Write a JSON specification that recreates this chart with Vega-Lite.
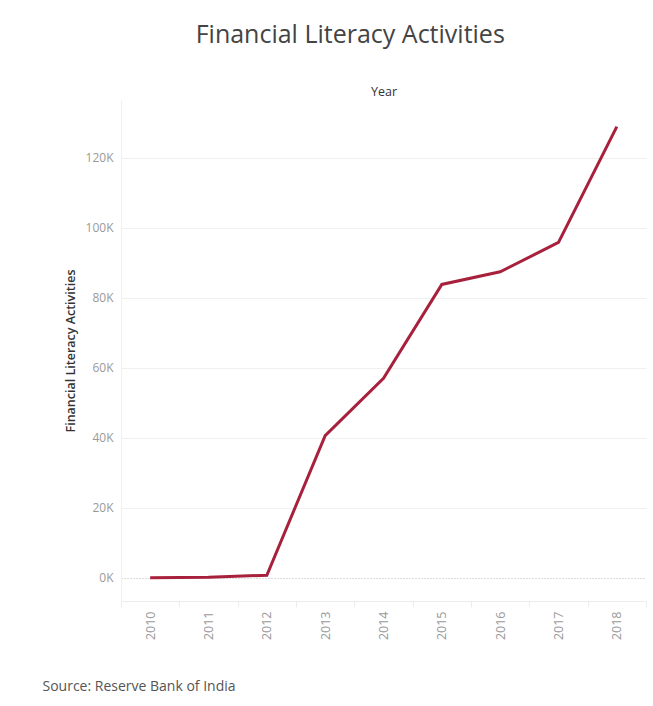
{
  "$schema": "https://vega.github.io/schema/vega-lite/v6.json",
  "autosize": {"type": "none"},
  "width": 525,
  "height": 501,
  "padding": {"left": 121, "top": 100, "right": 7, "bottom": 105},
  "background": "white",
  "title": {
    "text": "Financial Literacy Activities",
    "anchor": "middle",
    "frame": "bounds",
    "fontSize": 25,
    "font": "Open Sans",
    "fontWeight": "normal",
    "color": "#444444",
    "offset": 37,
    "dx": 6
  },
  "config": {
    "view": {"stroke": null},
    "axis": {"labelFont": "Open Sans", "titleFont": "Open Sans"}
  },
  "data": {
    "values": [
      {"Year": "2010", "Activities": 0},
      {"Year": "2011", "Activities": 150},
      {"Year": "2012", "Activities": 700},
      {"Year": "2013", "Activities": 40600},
      {"Year": "2014", "Activities": 57000},
      {"Year": "2015", "Activities": 83800},
      {"Year": "2016", "Activities": 87400},
      {"Year": "2017", "Activities": 95800},
      {"Year": "2018", "Activities": 128900}
    ]
  },
  "layer": [
    {
      "mark": {"type": "line", "color": "#a8213c", "strokeWidth": 3},
      "encoding": {
        "x": {
          "field": "Year",
          "type": "ordinal",
          "scale": {"type": "band", "paddingInner": 0, "paddingOuter": 0},
          "axis": {
            "orient": "bottom",
            "title": "Source: Reserve Bank of India",
            "titleFont": "Open Sans",
            "titleFontSize": 14,
            "titleFontWeight": "normal",
            "titleColor": "#555555",
            "titleAnchor": "start",
            "titleAlign": "left",
            "titleBaseline": "middle",
            "titleX": -79,
            "titleY": 85,
            "labelAngle": -90,
            "labelAlign": "right",
            "labelBaseline": "middle",
            "labelFontSize": 12.5,
            "labelColor": "#9a9a9a",
            "labelPadding": 4,
            "tickBand": "extent",
            "tickColor": "#ececec",
            "tickSize": 6,
            "domainColor": "#ececec",
            "grid": false
          }
        },
        "y": {
          "field": "Activities",
          "type": "quantitative",
          "scale": {"domain": [-6660, 136500], "nice": false, "zero": false},
          "axis": {
            "title": "Financial Literacy Activities",
            "titleFontSize": 12.5,
            "titleFontWeight": 600,
            "titleColor": "#333333",
            "titlePadding": 8,
            "values": [0, 20000, 40000, 60000, 80000, 100000, 120000],
            "labelExpr": "datum.value / 1000 + 'K'",
            "labelFontSize": 12,
            "labelColor": "#9a9a9a",
            "labelPadding": 8,
            "ticks": false,
            "domainColor": "#f0f0f0",
            "gridColor": {"condition": {"test": "datum.value === 0", "value": "#bbbbbb"}, "value": "#f0f0f0"},
            "gridDash": {"condition": {"test": "datum.value === 0", "value": [1, 2]}, "value": []}
          }
        }
      }
    },
    {
      "mark": {"type": "line", "opacity": 0},
      "encoding": {
        "x": {
          "field": "Year",
          "type": "ordinal",
          "axis": {
            "orient": "top",
            "title": "Year",
            "titleFontSize": 12.5,
            "titleFontWeight": "normal",
            "titleColor": "#333333",
            "titlePadding": 2,
            "labels": false,
            "ticks": false,
            "domain": false,
            "grid": false
          }
        },
        "y": {"field": "Activities", "type": "quantitative"}
      }
    }
  ],
  "resolve": {"axis": {"x": "independent"}}
}
